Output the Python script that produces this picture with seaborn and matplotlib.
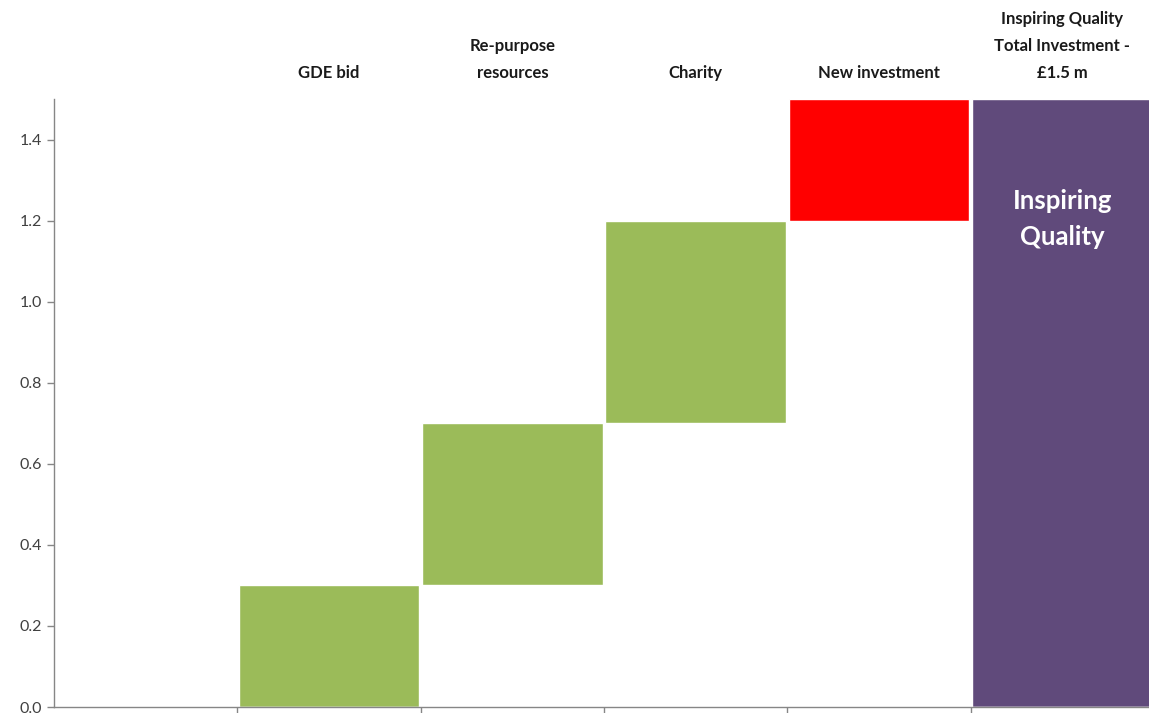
import matplotlib
matplotlib.use('Agg')
import matplotlib.pyplot as plt
import numpy as np
import pandas as pd
import seaborn as sns

# waterfall data (in £m)
categories = [' ', 'GDE bid', 'Re-purpose\nresources', 'Charity', 'New investment',
              'Inspiring Quality\nTotal Investment -\n£1.5 m']
base = [0.0, 0.0, 0.3, 0.7, 1.2, 0.0]
top = [0.0, 0.3, 0.7, 1.2, 1.5, 1.5]
bar_colors = ['#9BBB59', '#9BBB59', '#9BBB59', '#9BBB59', '#FF0000', '#604A7B']

df = pd.DataFrame({'cat': categories, 'base': base, 'top': top})

sns.set_style("white")
plt.rcParams['font.family'] = ['Lato', 'DejaVu Sans']

fig = plt.figure(figsize=(11.49, 7.13), dpi=100)
ax = fig.add_axes([0.047, 0.0084, 0.953, 0.8526])

# coloured bars up to the top value, then white bars hide the part below the base
sns.barplot(data=df, x='cat', y='top', hue='cat', palette=dict(zip(categories, bar_colors)),
            order=categories, width=0.985, legend=False, saturation=1, ax=ax)
sns.barplot(data=df, x='cat', y='base', order=categories, color='white',
            width=0.985, saturation=1, ax=ax)

ax.set_ylim(0, 1.5)
ax.set_xlim(-0.5, 5.473)
ax.set_xlabel('')
ax.set_ylabel('')

ax.set_yticks(np.arange(0, 1.41, 0.2))
ax.set_yticklabels([f'{v:.1f}' for v in np.arange(0, 1.41, 0.2)], fontsize=11.5, color='#404040')
ax.set_xticks(np.arange(0.5, 5, 1))
ax.set_xticklabels([])
ax.tick_params(axis='both', which='both', length=5, width=1, color='#868686', direction='out',
               bottom=True, left=True)

for s in ['top', 'right']:
    ax.spines[s].set_visible(False)
for s in ['left', 'bottom']:
    ax.spines[s].set_color('#868686')
    ax.spines[s].set_linewidth(1)

# category labels above the plot
for i, c in enumerate(categories):
    ax.text(i, 1.0 + 18 / 608, c, transform=ax.get_xaxis_transform(), ha='center', va='bottom',
            fontsize=12, fontweight='bold', color='#1a1a1a', linespacing=1.85)

ax.text(5, 1.205, 'Inspiring\nQuality', ha='center', va='center', fontsize=18.5,
        fontweight='bold', color='white', linespacing=1.6)

plt.savefig('out.png', dpi=100)
